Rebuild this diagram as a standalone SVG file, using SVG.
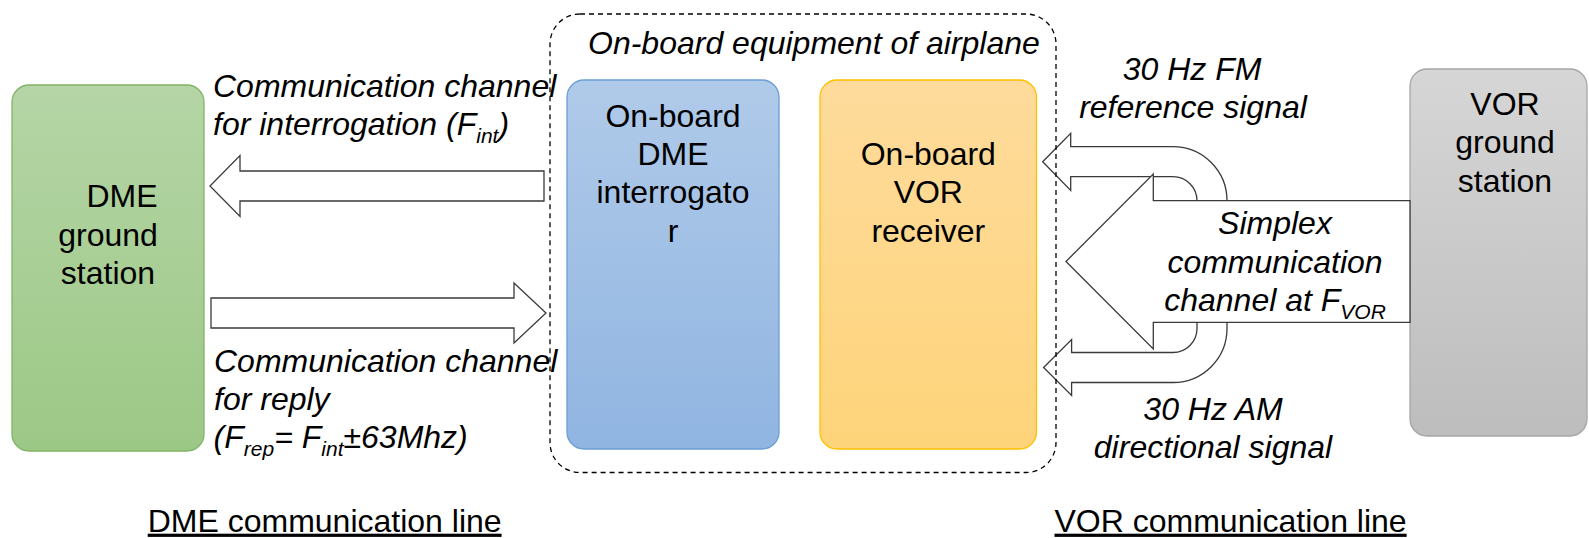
<svg xmlns="http://www.w3.org/2000/svg" width="1589" height="538" viewBox="0 0 1589 538">
<defs>
<linearGradient id="gGreen" x1="0" y1="0" x2="0" y2="1"><stop offset="0" stop-color="#b5d5a6"/><stop offset="1" stop-color="#9cc886"/></linearGradient>
<linearGradient id="gBlue" x1="0" y1="0" x2="0" y2="1"><stop offset="0" stop-color="#b0cae9"/><stop offset="1" stop-color="#90b5e1"/></linearGradient>
<linearGradient id="gOrange" x1="0" y1="0" x2="0" y2="1"><stop offset="0" stop-color="#fedb9c"/><stop offset="1" stop-color="#fed47a"/></linearGradient>
<linearGradient id="gGray" x1="0" y1="0" x2="0" y2="1"><stop offset="0" stop-color="#d6d6d6"/><stop offset="1" stop-color="#bdbdbd"/></linearGradient>
</defs>
<style>
text{font-family:"Liberation Sans",Arial,sans-serif;font-size:32px;fill:#000}
.it{font-style:italic}
.c{text-anchor:middle}
.sub{font-size:21px}
.arrow{fill:#fff;stroke:#3a3a3a;stroke-width:1.3;stroke-linejoin:miter}
.ul{text-decoration:underline}
</style>
<rect width="1589" height="538" fill="#fff"/>

<g id="dme-ground">
<rect x="12" y="85" width="192" height="366" rx="17" fill="url(#gGreen)" stroke="#82b366" stroke-width="1.3"/>
<text class="c" x="122" y="207.3">DME</text>
<text class="c" x="108" y="245.7">ground</text>
<text class="c" x="108" y="284.1">station</text>
</g>

<g id="vor-ground">
<rect x="1410" y="69" width="177" height="367" rx="17" fill="url(#gGray)" stroke="#a6a6a6" stroke-width="1.3"/>
<text class="c" x="1505" y="115">VOR</text>
<text class="c" x="1505" y="153.4">ground</text>
<text class="c" x="1505" y="191.8">station</text>
</g>

<g id="dme-interrogator">
<rect x="567" y="80" width="212" height="369" rx="17" fill="url(#gBlue)" stroke="#6a9fd6" stroke-width="1.3"/>
<text class="c" x="673" y="126.7">On-board</text>
<text class="c" x="673" y="165">DME</text>
<text class="c" x="673" y="203.3">interrogato</text>
<text class="c" x="673" y="241.6">r</text>
</g>

<g id="vor-receiver">
<rect x="820" y="80" width="216.5" height="369" rx="17" fill="url(#gOrange)" stroke="#ffc000" stroke-width="1.3"/>
<text class="c" x="928.3" y="165">On-board</text>
<text class="c" x="928.3" y="203.3">VOR</text>
<text class="c" x="928.3" y="241.6">receiver</text>
</g>

<g id="connectors">
<polygon class="arrow" points="544,171 240,171 240,155.5 210,186 240,216.5 240,201 544,201"/>
<polygon class="arrow" points="211,298 514,298 514,283 546,313 514,343 514,328 211,328"/>
<path class="arrow" d="M1042.7,161.7 L1070.7,133.3 L1070.7,146.7 L1173,146.7 A54,54 0 0 1 1227,200.7 L1227,240 L1197,240 L1197,200.7 A24,24 0 0 0 1173,176.7 L1070.7,176.7 L1070.7,190.5 Z"/>
<path class="arrow" d="M1043.6,367.5 L1071.6,339.5 L1071.6,352.5 L1173,352.5 A24,24 0 0 0 1197,328.5 L1197,300 L1227,300 L1227,328.5 A54,54 0 0 1 1173,382.5 L1071.6,382.5 L1071.6,395.5 Z"/>
<polygon class="arrow" points="1410,200.7 1153.3,200.7 1153.3,174 1066,261.5 1153.3,349 1153.3,322.3 1410,322.3"/>
</g>

<g id="airplane-container">
<rect x="550" y="14" width="506" height="458.5" rx="30" fill="none" stroke="#000" stroke-width="1.3" stroke-dasharray="5,4"/>
<text class="it" x="588" y="53.5">On-board equipment of airplane</text>
</g>

<g id="labels">
<text class="it" x="213" y="96.7">Communication channel</text>
<text class="it" x="213" y="135.1">for interrogation (F<tspan class="sub" dy="8">int</tspan><tspan dy="-8">)</tspan></text>
<text class="it" x="214" y="371.7">Communication channel</text>
<text class="it" x="214" y="410">for reply</text>
<text class="it" x="213.6" y="448.3">(F<tspan class="sub" dy="8">rep</tspan><tspan dy="-8">= F</tspan><tspan class="sub" dy="8">int</tspan><tspan dy="-8" style="font-style:normal">±</tspan>63Mhz)</text>
<text class="it c" x="1192" y="80">30 Hz FM</text>
<text class="it c" x="1193" y="118.4">reference signal</text>
<text class="it c" x="1275" y="234.3">Simplex</text>
<text class="it c" x="1275" y="272.7">communication</text>
<text class="it c" x="1275" y="311.1">channel at F<tspan class="sub" dy="8">VOR</tspan></text>
<text class="it c" x="1213" y="420">30 Hz AM</text>
<text class="it c" x="1213" y="458.4">directional signal</text>
<text class="ul" x="147.7" y="531.7">DME communication line</text>
<text class="ul" x="1054.5" y="531.7">VOR communication line</text>
</g>
</svg>
